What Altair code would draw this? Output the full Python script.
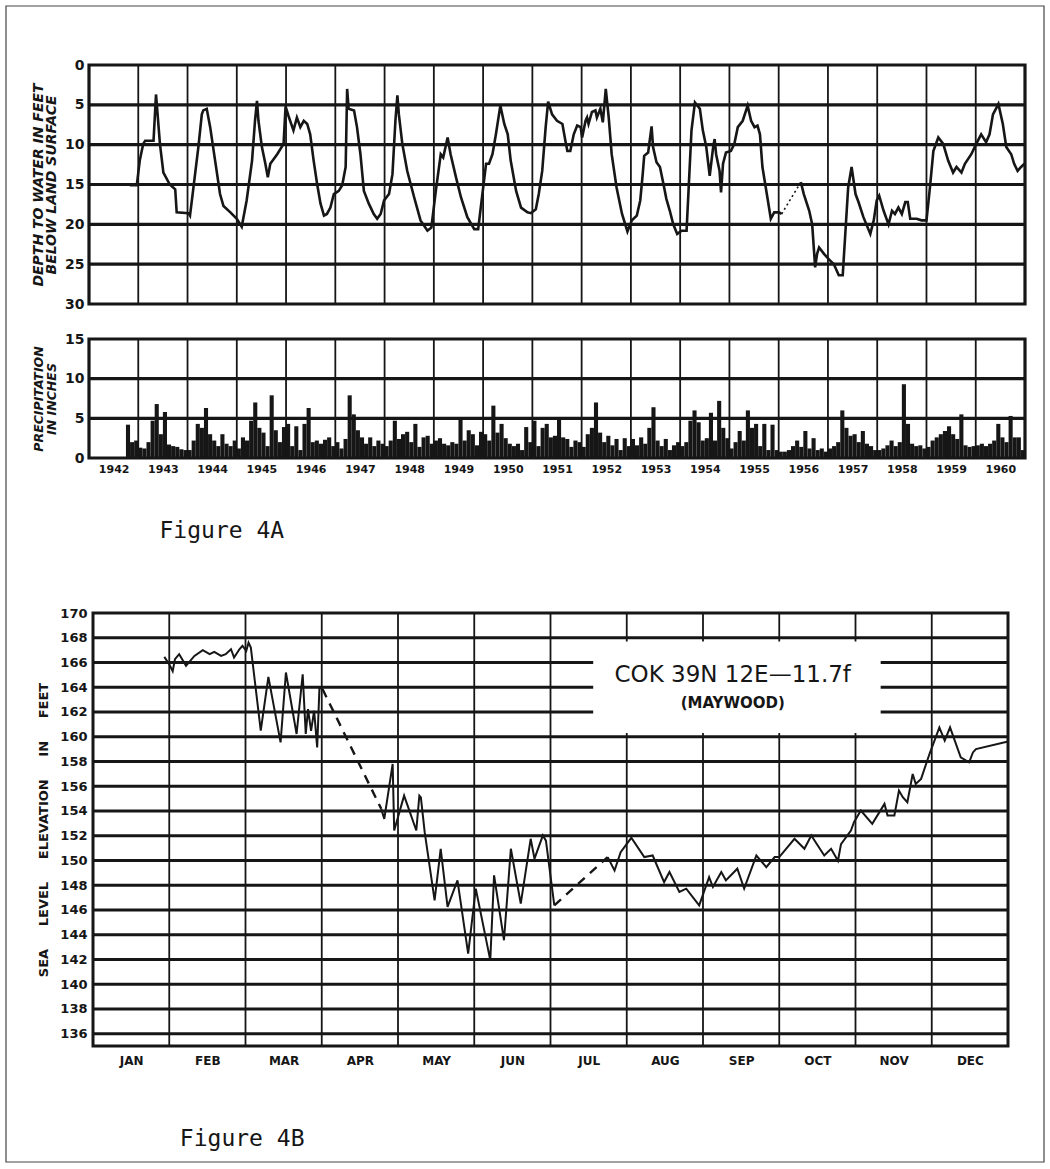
import altair as alt
import pandas as pd

# ---------------- DATA ----------------
# Figure 4A: depth to water (feet below land surface), by decimal year
top_year = [1942.83, 1942.97, 1943.03, 1943.10, 1943.14, 1943.31, 1943.36, 1943.44, 1943.51, 1943.64,
            1943.75, 1943.78, 1944.02, 1944.05, 1944.12, 1944.22, 1944.29, 1944.32, 1944.39, 1944.46,
            1944.56, 1944.66, 1944.73, 1944.87, 1945.00, 1945.10, 1945.20, 1945.31, 1945.37, 1945.41,
            1945.44, 1945.51, 1945.58, 1945.63, 1945.68, 1945.82, 1945.95, 1945.99, 1946.05, 1946.15,
            1946.22, 1946.29, 1946.36, 1946.43, 1946.49, 1946.56, 1946.63, 1946.70, 1946.77, 1946.83,
            1946.90, 1946.97, 1947.07, 1947.14, 1947.21, 1947.24, 1947.27, 1947.38, 1947.44, 1947.51,
            1947.58, 1947.68, 1947.78, 1947.85, 1947.92, 1947.99, 1948.09, 1948.16, 1948.22, 1948.26,
            1948.29, 1948.36, 1948.46, 1948.60, 1948.73, 1948.87, 1948.95, 1949.04, 1949.14, 1949.19,
            1949.28, 1949.34, 1949.45, 1949.55, 1949.68, 1949.82, 1949.90, 1949.97, 1950.06, 1950.12,
            1950.19, 1950.26, 1950.35, 1950.43, 1950.50, 1950.56, 1950.67, 1950.77, 1950.90, 1950.97,
            1951.07, 1951.13, 1951.20, 1951.27, 1951.32, 1951.40, 1951.50, 1951.61, 1951.67, 1951.71,
            1951.77, 1951.84, 1951.91, 1951.98, 1952.01, 1952.08, 1952.11, 1952.14, 1952.21, 1952.28,
            1952.31, 1952.38, 1952.43, 1952.49, 1952.55, 1952.61, 1952.71, 1952.82, 1952.93, 1953.02,
            1953.12, 1953.19, 1953.24, 1953.27, 1953.35, 1953.42, 1953.45, 1953.52, 1953.59, 1953.66,
            1953.72, 1953.79, 1953.86, 1953.94, 1954.03, 1954.13, 1954.17, 1954.23, 1954.30, 1954.40,
            1954.46, 1954.53, 1954.60, 1954.67, 1954.70, 1954.73, 1954.80, 1954.83, 1954.87, 1954.93,
            1955.03, 1955.10, 1955.17, 1955.27, 1955.37, 1955.44, 1955.51, 1955.57, 1955.62, 1955.67,
            1955.77, 1955.84, 1955.91, 1956.01, 1956.06]
top_depth = [15.1, 15.1, 12.0, 9.9, 9.5, 9.5, 3.7, 9.9, 13.5, 15.0,
             15.6, 18.5, 18.6, 18.9, 15.4, 10.3, 6.2, 5.7, 5.5, 7.8,
             12.0, 16.2, 17.7, 18.5, 19.3, 20.3, 17.0, 12.0, 7.0, 4.5,
             7.0, 10.3, 12.4, 14.1, 12.4, 11.2, 9.9, 5.2, 6.4, 8.2,
             6.6, 7.8, 7.0, 7.4, 8.7, 12.0, 14.9, 17.4, 18.9, 18.7,
             17.9, 16.2, 15.8, 15.1, 12.8, 3.0, 5.5, 5.7, 7.8, 11.2,
             15.8, 17.4, 18.7, 19.3, 18.7, 17.0, 16.2, 13.7, 7.0, 3.8,
             6.2, 9.9, 13.3, 16.6, 19.5, 20.8, 20.4, 15.8, 11.2, 11.6,
             9.1, 11.2, 14.1, 16.6, 19.1, 20.6, 20.6, 17.0, 12.4, 12.4,
             11.2, 8.7, 5.1, 7.4, 8.7, 12.0, 15.8, 17.9, 18.5, 18.6,
             18.1, 16.2, 13.3, 7.8, 4.6, 6.2, 7.0, 7.4, 9.5, 10.8,
             10.8, 8.7, 7.6, 7.8, 9.1, 7.0, 6.6, 7.4, 5.9, 5.7,
             6.6, 5.5, 7.2, 3.0, 6.6, 11.2, 15.4, 18.7, 20.9, 19.5,
             18.9, 17.0, 13.7, 11.4, 11.0, 7.7, 10.3, 12.2, 12.8, 14.9,
             16.8, 18.3, 20.0, 21.2, 20.8, 20.8, 15.8, 8.2, 4.7, 5.5,
             8.2, 10.3, 13.9, 10.3, 9.3, 11.2, 13.3, 16.0, 12.4, 11.0,
             10.8, 9.9, 7.8, 7.0, 5.1, 7.0, 7.8, 7.6, 8.7, 12.8,
             16.6, 19.3, 18.5, 18.5, 18.7]
gap_year = [1956.06, 1956.45]
gap_depth = [18.7, 14.7]
top2_year = [1956.45, 1956.51, 1956.62, 1956.68, 1956.74, 1956.78, 1956.82, 1956.92, 1957.02, 1957.12,
             1957.22, 1957.30, 1957.36, 1957.41, 1957.48, 1957.56, 1957.62, 1957.72, 1957.86, 1957.93,
             1957.99, 1958.04, 1958.13, 1958.23, 1958.30, 1958.36, 1958.43, 1958.50, 1958.57, 1958.62,
             1958.67, 1958.80, 1958.90, 1959.00, 1959.07, 1959.14, 1959.24, 1959.34, 1959.44, 1959.54,
             1959.61, 1959.71, 1959.78, 1959.91, 1960.01, 1960.11, 1960.21, 1960.28, 1960.35, 1960.46,
             1960.55, 1960.62, 1960.72, 1960.78, 1960.85, 1960.92, 1960.99]
top2_depth = [14.7, 16.2, 18.3, 20.0, 25.4, 23.7, 22.9, 23.7, 24.4, 25.0,
              26.4, 26.4, 20.4, 15.4, 12.8, 16.2, 17.2, 19.1, 21.2, 19.5,
              17.0, 16.4, 18.3, 20.0, 18.3, 18.7, 17.9, 18.7, 17.2, 17.2,
              19.3, 19.3, 19.5, 19.5, 15.4, 10.8, 9.1, 9.9, 12.0, 13.5,
              12.8, 13.5, 12.4, 11.2, 9.9, 8.7, 9.7, 8.7, 6.2, 4.9,
              7.4, 10.3, 11.2, 12.4, 13.3, 12.8, 12.4]

# Monthly precipitation (inches), Oct 1942 .. Dec 1960
precip_1942 = [4.2, 2.0, 2.2]  # Oct-Dec
precip = {
    1943: [1.3, 1.2, 2.0, 4.7, 6.8, 3.0, 5.8, 1.7, 1.5, 1.4, 1.1, 1.0],
    1944: [1.0, 2.2, 4.3, 3.8, 6.3, 3.0, 2.2, 1.5, 3.0, 1.8, 1.5, 2.2],
    1945: [1.2, 2.6, 2.2, 4.7, 7.0, 3.8, 3.2, 1.5, 7.9, 3.5, 2.0, 3.9],
    1946: [4.3, 1.5, 4.0, 1.0, 4.3, 6.3, 2.0, 2.2, 1.8, 2.3, 2.6, 1.5],
    1947: [2.0, 1.2, 2.4, 7.9, 5.5, 3.5, 2.6, 1.8, 2.6, 1.5, 2.2, 1.8],
    1948: [1.5, 2.2, 4.7, 2.4, 3.0, 3.3, 2.0, 4.3, 1.4, 2.6, 2.8, 1.8],
    1949: [2.2, 2.5, 1.8, 1.6, 2.0, 1.8, 5.1, 2.2, 3.5, 3.0, 1.6, 3.3],
    1950: [3.0, 2.2, 6.6, 3.2, 4.3, 2.5, 1.8, 1.5, 1.8, 1.0, 3.9, 2.0],
    1951: [4.7, 1.5, 3.8, 4.3, 2.6, 2.8, 5.1, 2.6, 2.4, 1.4, 2.2, 2.0],
    1952: [1.4, 3.0, 3.8, 7.0, 3.2, 2.0, 2.8, 1.6, 2.4, 1.0, 2.5, 1.5],
    1953: [2.4, 1.6, 2.6, 1.8, 3.8, 6.4, 2.2, 1.5, 2.4, 1.0, 1.6, 2.0],
    1954: [1.5, 2.0, 4.7, 6.0, 4.5, 2.2, 2.5, 5.7, 2.2, 7.2, 3.8, 2.5],
    1955: [1.2, 2.0, 3.4, 2.2, 6.0, 3.8, 4.3, 1.5, 4.3, 1.0, 4.2, 1.0],
    1956: [0.8, 0.8, 1.0, 1.5, 2.2, 1.4, 3.4, 1.2, 2.5, 1.0, 1.2, 0.8],
    1957: [1.2, 1.5, 2.0, 6.0, 3.8, 2.8, 3.0, 2.0, 3.4, 1.8, 1.5, 1.0],
    1958: [1.0, 1.2, 1.6, 2.2, 1.5, 2.0, 9.3, 4.3, 1.8, 1.5, 1.6, 1.2],
    1959: [1.4, 2.2, 2.6, 3.0, 3.4, 4.0, 3.0, 2.4, 5.5, 1.6, 1.4, 1.5],
    1960: [1.6, 1.8, 1.5, 1.8, 2.2, 4.3, 2.6, 2.0, 5.3, 2.6, 2.6, 1.0],
}
years = list(range(1942, 1961))

# Figure 4B: sea level elevation (feet), x in months from Jan 1
b1_x = [0.935, 1.0, 1.045, 1.075, 1.13, 1.22, 1.33, 1.44, 1.53, 1.59, 1.68, 1.74, 1.81, 1.85,
        1.92, 1.96, 2.01, 2.04, 2.07, 2.2, 2.30, 2.46, 2.53, 2.67, 2.75, 2.79, 2.82, 2.86,
        2.90, 2.94, 2.97, 3.01]
b1_y = [166.45, 165.86, 165.3, 166.27, 166.67, 165.73, 166.53, 166.99, 166.67, 166.85, 166.53,
        166.67, 167.07, 166.4, 167.07, 167.34, 166.94, 167.6, 167.2, 160.5, 164.84, 159.54,
        165.19, 160.22, 165.05, 160.22, 162.23, 160.48, 162.1, 159.14, 163.98, 163.85]
b2_x = [3.78, 3.82, 3.93, 3.95, 4.08, 4.24, 4.28, 4.30, 4.35, 4.48, 4.56, 4.65, 4.78, 4.92,
        5.02, 5.21, 5.26, 5.39, 5.48, 5.61, 5.74, 5.79, 5.90, 5.94, 6.05]
b2_y = [154.17, 153.36, 157.8, 152.42, 155.24, 152.42, 155.24, 155.1, 152.28, 146.77, 150.94,
        146.24, 148.39, 142.47, 147.72, 141.94, 148.79, 143.55, 150.94, 146.51, 151.75, 150.14,
        152.02, 151.6, 146.37]
b3_x = [6.75, 6.84, 6.92, 7.06, 7.23, 7.34, 7.49, 7.56, 7.69, 7.78, 7.95, 8.08, 8.13, 8.24,
        8.30, 8.45, 8.54, 8.70, 8.83, 8.94, 9.00, 9.20, 9.33, 9.42, 9.59, 9.68, 9.77, 9.81,
        9.94, 9.98, 10.07, 10.22, 10.38, 10.42, 10.51, 10.57, 10.62, 10.68, 10.75, 10.79,
        10.86, 10.97, 11.10, 11.17, 11.24, 11.38, 11.49, 11.54, 11.58, 12.0]
b3_y = [150.27, 149.19, 150.67, 151.83, 150.27, 150.4, 148.25, 149.06, 147.45, 147.72, 146.37,
        148.65, 147.85, 149.06, 148.39, 149.33, 147.72, 150.4, 149.46, 150.27, 150.27, 151.75,
        150.94, 152.02, 150.4, 150.94, 149.97, 151.32, 152.42, 153.09, 154.03, 152.96, 154.57,
        153.63, 153.63, 155.65, 155.11, 154.70, 156.99, 156.18, 156.59, 158.6, 160.75, 159.68,
        160.75, 158.33, 157.93, 158.73, 159.0, 159.62]
dash_x = [3.01, 3.78, 6.05, 6.75]
dash_y = [163.85, 154.17, 146.37, 150.27]
dash_seg = ["a", "a", "b", "b"]
month_names = ["JAN", "FEB", "MAR", "APR", "MAY", "JUN", "JUL", "AUG", "SEP", "OCT", "NOV", "DEC"]
well_label = ["COK 39N 12E\u201411.7f", "(MAYWOOD)"]

# ---------------- STYLE ----------------
INK = "#161616"
FONT = "DejaVu Sans"
W = 936
H_TOP = 239
H_PRE = 119
W_BOT = 919
H_BOT = 553
GAP = 35

# ---------------- FIGURE 4A : hydrograph ----------------
xs_top = alt.Scale(domain=[1942, 1961], nice=False, zero=False)
ys_top = alt.Scale(domain=[0, 30], reverse=True, nice=False, zero=False)
y_axis_top = alt.Axis(values=[0, 5, 10, 15, 20, 25, 30], grid=False, ticks=False, domain=False,
                      labelOverlap=False, labelFont=FONT, labelFontWeight="bold", labelFontSize=14,
                      labelColor=INK, labelPadding=5,
                      title=["DEPTH TO WATER IN FEET", "BELOW LAND SURFACE"],
                      titleFont=FONT, titleFontStyle="italic", titleFontWeight="bold",
                      titleFontSize=14, titleLineHeight=13, titleColor=INK, titlePadding=6)

hline_top = pd.DataFrame({"v": [5, 10, 15, 20, 25]})
vline_years = pd.DataFrame({"v": years[1:]})
frame_row = pd.DataFrame({"a": [0]})

g_top_h = alt.Chart(hline_top).mark_rule(color=INK, strokeWidth=3.2).encode(
    y=alt.Y("v:Q", scale=ys_top, axis=y_axis_top))
g_top_v = alt.Chart(vline_years).mark_rule(color=INK, strokeWidth=1.8).encode(
    x=alt.X("v:Q", scale=xs_top, axis=None))
line_top1 = alt.Chart(pd.DataFrame({"yr": top_year, "d": top_depth})).mark_line(
    color=INK, strokeWidth=2.6).encode(
    x=alt.X("yr:Q", scale=xs_top, axis=None), y=alt.Y("d:Q", scale=ys_top, axis=y_axis_top))
line_top2 = alt.Chart(pd.DataFrame({"yr": top2_year, "d": top2_depth})).mark_line(
    color=INK, strokeWidth=2.6).encode(
    x=alt.X("yr:Q", scale=xs_top, axis=None), y=alt.Y("d:Q", scale=ys_top, axis=y_axis_top))
line_gap = alt.Chart(pd.DataFrame({"yr": gap_year, "d": gap_depth})).mark_line(
    color=INK, strokeWidth=1.6, strokeDash=[2, 3]).encode(
    x=alt.X("yr:Q", scale=xs_top, axis=None), y=alt.Y("d:Q", scale=ys_top, axis=y_axis_top))
frame_top = alt.Chart(frame_row).mark_rect(fillOpacity=0, stroke=INK, strokeWidth=3.2).encode(
    x=alt.datum(1942, scale=xs_top, axis=None), x2=alt.datum(1961),
    y=alt.datum(0, scale=ys_top, axis=y_axis_top), y2=alt.datum(30))
# thin outer page frame
page_frame = alt.Chart(frame_row).mark_rect(fillOpacity=0, stroke="#444444", strokeWidth=1.2).encode(
    x=alt.value(-83), x2=alt.value(955), y=alt.value(-59), y2=alt.value(1097))

top = alt.layer(page_frame, g_top_h, g_top_v, line_top1, line_gap, line_top2, frame_top).properties(
    width=W, height=H_TOP)

# ---------------- FIGURE 4A : precipitation ----------------
rows = []
for i, v in enumerate(precip_1942):
    m = 9 + i
    rows.append({"x0": 1942 + m / 12, "x1": 1942 + (m + 1) / 12, "p": v, "z": 0})
for yr in range(1943, 1961):
    for m, v in enumerate(precip[yr]):
        rows.append({"x0": yr + m / 12, "x1": yr + (m + 1) / 12, "p": v, "z": 0})
pre_df = pd.DataFrame(rows)

xs_pre = alt.Scale(domain=[1942, 1961], nice=False, zero=False)
ys_pre = alt.Scale(domain=[0, 15], nice=False)
x_axis_pre = alt.Axis(values=[y + 0.5 for y in years], labelExpr="floor(datum.value)",
                      grid=False, ticks=False, domain=False, labelOverlap=False, labelFont=FONT,
                      labelFontWeight="bold", labelFontSize=11, labelColor=INK, labelPadding=5,
                      title=None)
y_axis_pre = alt.Axis(values=[0, 5, 10, 15], grid=False, ticks=False, domain=False,
                      labelOverlap=False, labelFont=FONT, labelFontWeight="bold", labelFontSize=14,
                      labelColor=INK, labelPadding=5, title=["PRECIPITATION", "IN INCHES"],
                      titleFont=FONT, titleFontStyle="italic", titleFontWeight="bold",
                      titleFontSize=12.5, titleLineHeight=13, titleColor=INK, titlePadding=6)

g_pre_h = alt.Chart(pd.DataFrame({"v": [5, 10]})).mark_rule(color=INK, strokeWidth=3.2).encode(
    y=alt.Y("v:Q", scale=ys_pre, axis=y_axis_pre))
g_pre_v = alt.Chart(vline_years).mark_rule(color=INK, strokeWidth=1.8).encode(
    x=alt.X("v:Q", scale=xs_pre, axis=x_axis_pre))
bars = alt.Chart(pre_df).mark_rect(color=INK).encode(
    x=alt.X("x0:Q", scale=xs_pre, axis=x_axis_pre), x2="x1:Q",
    y=alt.Y("p:Q", scale=ys_pre, axis=y_axis_pre), y2="z:Q")
frame_pre = alt.Chart(frame_row).mark_rect(fillOpacity=0, stroke=INK, strokeWidth=3.2).encode(
    x=alt.datum(1942, scale=xs_pre, axis=x_axis_pre), x2=alt.datum(1961),
    y=alt.datum(0, scale=ys_pre, axis=y_axis_pre), y2=alt.datum(15))

pre = alt.layer(g_pre_h, g_pre_v, bars, frame_pre).properties(
    width=W, height=H_PRE,
    title=alt.TitleParams("Figure 4A", orient="bottom", anchor="start", dx=127, offset=46,
                          font="DejaVu Sans Mono", fontSize=23, fontWeight="normal", color=INK))

# ---------------- FIGURE 4B ----------------
xs_b = alt.Scale(domain=[0, 12], range=[4, W_BOT], nice=False, zero=False)
ys_b = alt.Scale(domain=[135, 170], range=[H_BOT, 120], nice=False, zero=False)
nb = "\u00a0" * 5
x_axis_b = alt.Axis(values=[m + 0.5 for m in range(12)],
                    labelExpr="['JAN','FEB','MAR','APR','MAY','JUN','JUL','AUG','SEP','OCT','NOV','DEC'][floor(datum.value)]",
                    grid=False, ticks=False, domain=False, labelOverlap=False, labelFont=FONT,
                    labelFontWeight="bold", labelFontSize=12, labelColor=INK, labelPadding=9,
                    title=None)
y_axis_b = alt.Axis(values=list(range(136, 171, 2)), grid=False, ticks=False, domain=False,
                    labelOverlap=False, labelFont=FONT, labelFontWeight="bold", labelFontSize=13,
                    labelColor=INK, labelPadding=2,
                    title="SEA" + nb + "LEVEL" + nb + "ELEVATION" + nb + "IN" + nb + "FEET",
                    titleFont=FONT, titleFontWeight="bold", titleFontSize=13, titleColor=INK,
                    titlePadding=9)

g_b_h = alt.Chart(pd.DataFrame({"v": list(range(136, 170, 2))})).mark_rule(
    color=INK, strokeWidth=3).encode(
    y=alt.Y("v:Q", scale=ys_b, axis=y_axis_b),
    x=alt.datum(0, scale=xs_b, axis=x_axis_b), x2=alt.datum(12))
g_b_v = alt.Chart(pd.DataFrame({"v": list(range(1, 12))})).mark_rule(
    color=INK, strokeWidth=1.8).encode(
    x=alt.X("v:Q", scale=xs_b, axis=x_axis_b),
    y=alt.datum(135, scale=ys_b, axis=y_axis_b), y2=alt.datum(170))
box = alt.Chart(frame_row).mark_rect(color="white").encode(
    x=alt.datum(6.56, scale=xs_b, axis=x_axis_b), x2=alt.datum(10.33),
    y=alt.datum(160.3, scale=ys_b, axis=y_axis_b), y2=alt.datum(167.7))
lbl_df = pd.DataFrame({"t": well_label, "x": [8.39, 8.39], "y": [165.0, 162.7]})
lbl1 = alt.Chart(lbl_df.iloc[[0]]).mark_text(font=FONT, fontSize=23, color=INK).encode(
    x=alt.X("x:Q", scale=xs_b, axis=x_axis_b), y=alt.Y("y:Q", scale=ys_b, axis=y_axis_b), text="t:N")
lbl2 = alt.Chart(lbl_df.iloc[[1]]).mark_text(font=FONT, fontSize=15, fontWeight="bold", color=INK).encode(
    x=alt.X("x:Q", scale=xs_b, axis=x_axis_b), y=alt.Y("y:Q", scale=ys_b, axis=y_axis_b), text="t:N")

def seg(xv, yv):
    return alt.Chart(pd.DataFrame({"m": xv, "e": yv})).mark_line(color=INK, strokeWidth=2).encode(
        x=alt.X("m:Q", scale=xs_b, axis=x_axis_b), y=alt.Y("e:Q", scale=ys_b, axis=y_axis_b))

dashes = alt.Chart(pd.DataFrame({"m": dash_x, "e": dash_y, "s": dash_seg})).mark_line(
    color=INK, strokeWidth=2.4, strokeDash=[9, 7]).encode(
    x=alt.X("m:Q", scale=xs_b, axis=x_axis_b), y=alt.Y("e:Q", scale=ys_b, axis=y_axis_b),
    detail="s:N")
frame_b = alt.Chart(frame_row).mark_rect(fillOpacity=0, stroke=INK, strokeWidth=3).encode(
    x=alt.datum(0, scale=xs_b, axis=x_axis_b), x2=alt.datum(12),
    y=alt.datum(135, scale=ys_b, axis=y_axis_b), y2=alt.datum(170))

bottom = alt.layer(g_b_h, g_b_v, box, lbl1, lbl2, seg(b1_x, b1_y), seg(b2_x, b2_y),
                   seg(b3_x, b3_y), dashes, frame_b).properties(
    width=W_BOT, height=H_BOT,
    title=alt.TitleParams("Figure 4B", orient="bottom", anchor="start", dx=142, offset=62,
                          font="DejaVu Sans Mono", fontSize=23, fontWeight="normal", color=INK))

chart = alt.vconcat(top, pre, bottom, spacing=GAP, bounds="flush").configure_view(
    stroke=None).configure_axis(labelOverlap=False, labelBound=False).properties(
    padding=5, background="white")

chart.save("out.html", embed_options={"renderer": "svg", "actions": False})
